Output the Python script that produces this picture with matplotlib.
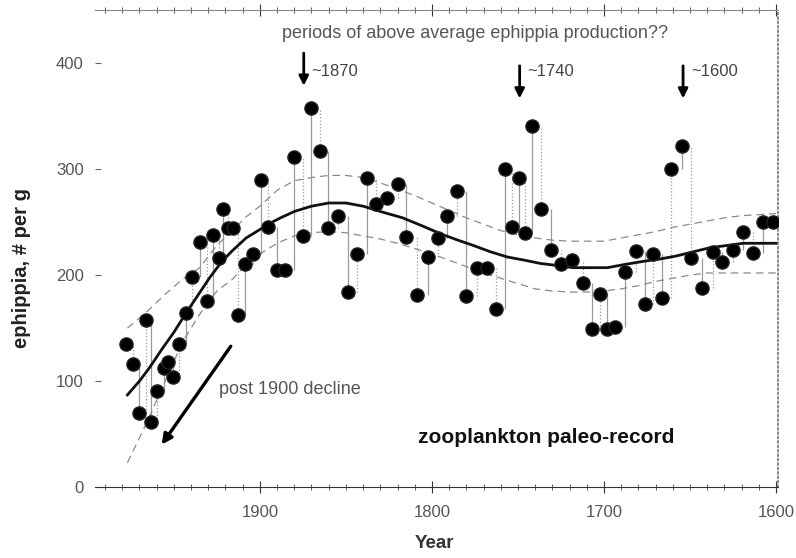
import numpy as np
import matplotlib
matplotlib.use('Agg')
import matplotlib.pyplot as plt
from matplotlib.ticker import MultipleLocator

plt.rcParams['font.family'] = ['Liberation Sans', 'DejaVu Sans']

# ephippia counts (year, # per g)
anos = [1978, 1974, 1970, 1966, 1963, 1960, 1956, 1953.5, 1950.6, 1947, 1943,
        1939.5, 1935, 1931, 1927, 1924, 1921.5, 1918.6, 1915.7, 1912.8, 1908.7,
        1904, 1899.4, 1895, 1890, 1885.5, 1880, 1875, 1870, 1865, 1860.5,
        1854.7, 1849, 1843.6, 1838, 1832.6, 1826, 1820, 1815, 1808.7, 1802,
        1796.5, 1791, 1785.5, 1780, 1774, 1768, 1763, 1757.6, 1753.5, 1749.4,
        1746, 1742, 1736.6, 1731, 1725, 1718.6, 1712, 1707, 1702, 1698,
        1693.6, 1688, 1681.4, 1676, 1671.5, 1666, 1661, 1654.6, 1649.4, 1643,
        1636.6, 1631.4, 1625, 1619, 1613.4, 1607.6, 1601.7]
ephippia = [135, 116, 70, 158, 61, 91, 112, 118, 104, 135, 164,
            198, 231, 176, 238, 216, 262, 244, 244, 162, 210,
            220, 290, 245, 205, 205, 311, 237, 358, 317, 244,
            256, 184, 220, 292, 267, 273, 286, 236, 181, 217,
            235, 256, 279, 180, 207, 207, 168, 300, 245, 292,
            240, 341, 262, 224, 210, 214, 193, 149, 182, 149,
            151, 203, 223, 173, 220, 178, 300, 322, 216, 188,
            222, 212, 224, 241, 221, 250, 250]

# smoothed trend and its band
anos_fit = [1977, 1970, 1964, 1957, 1950, 1943, 1936, 1929, 1922, 1916, 1908,
            1900, 1894, 1888, 1880, 1870, 1860, 1855, 1850, 1840, 1830, 1817,
            1805, 1795, 1785, 1776, 1766, 1756, 1746, 1737, 1727, 1718, 1708,
            1698, 1688, 1677, 1668, 1658, 1648, 1638, 1628, 1619, 1610, 1600]
ajuste = [87, 100, 113, 130, 146, 164, 181, 198, 213, 223, 235,
          243, 249, 254, 260, 265, 268, 268, 268, 265, 260, 254,
          246, 239, 233, 228, 222, 217, 214, 211, 209, 207, 207,
          207, 210, 213, 215, 218, 222, 226, 228, 230, 230, 230]

anos_banda = [1977, 1966, 1955, 1945, 1935, 1925, 1916, 1908, 1900, 1890,
              1880, 1870, 1860, 1850, 1840, 1830, 1820, 1810, 1800, 1790,
              1780, 1770, 1760, 1750, 1740, 1730, 1720, 1710, 1700, 1690,
              1680, 1670, 1660, 1650, 1640, 1630, 1620, 1610, 1600]
banda_sup = [150, 165, 182, 196, 207, 228, 242, 255, 265, 280,
             289, 292, 294, 294, 292, 287, 281, 275, 268, 261,
             254, 248, 242, 238, 235, 233, 232, 232, 232, 235,
             238, 241, 245, 248, 251, 254, 256, 257, 258]
banda_inf = [23, 60, 100, 137, 163, 185, 196, 210, 220, 230,
             237, 240, 241, 240, 237, 234, 230, 225, 220, 214,
             208, 202, 197, 192, 187, 185, 184, 184, 185, 187,
             190, 194, 197, 200, 202, 202, 202, 202, 202]

fig = plt.figure(figsize=(7.96, 5.58), dpi=100)
ax = fig.add_axes([0.119, 0.127, 0.858, 0.855])

# vertical connectors between successive samples
ys = np.array(ephippia)
prev = np.concatenate([[ys[0]], ys[:-1]])
estilos = ['-' if i % 2 == 0 else ':' for i in range(len(ys))]
ax.vlines(anos, np.minimum(ys, prev), np.maximum(ys, prev), colors='#9a9a9a',
          linewidth=0.9, linestyles=estilos, zorder=1)

ax.plot(anos_banda, banda_sup, color='#8a8a8a', lw=0.9, ls=(0, (6, 4)), zorder=2)
ax.plot(anos_banda, banda_inf, color='#8a8a8a', lw=0.9, ls=(0, (6, 4)), zorder=2)
ax.plot(anos_fit, ajuste, color='#111111', lw=2.0, zorder=3)
ax.scatter(anos, ephippia, s=90, color='black', edgecolors='#222222', zorder=4)

ax.set_xlim(1996, 1599)
ax.set_ylim(0, 450)

ax.xaxis.set_major_locator(MultipleLocator(100))
ax.xaxis.set_minor_locator(MultipleLocator(10))
ax.yaxis.set_major_locator(MultipleLocator(100))
ax.tick_params(axis='x', which='major', direction='inout', length=8, width=0.8,
               colors='#333333', labelcolor='#555555', labelsize=12, pad=9,
               top=True)
ax.tick_params(axis='x', which='minor', direction='inout', length=4, width=0.6,
               colors='#444444', top=True)
ax.tick_params(axis='y', which='major', direction='in', length=4, width=0.8,
               colors='#666666', labelcolor='#555555', labelsize=12, pad=8)

ax.spines['left'].set_visible(False)
ax.spines['top'].set_color('#888888')
ax.spines['bottom'].set_color('#333333')
ax.spines['right'].set_color('#777777')
ax.spines['right'].set_linestyle(':')
ax.spines['right'].set_linewidth(1.2)

ax.set_xlabel('Year', fontsize=13.5, fontweight='bold', color='#333333')
ax.xaxis.set_label_coords(0.497, -0.1)
ax.set_ylabel('ephippia, # per g', fontsize=14.5, fontweight='bold', color='#222222')
ax.yaxis.set_label_coords(-0.093, 0.46)

ax.text(1775, 428, 'periods of above average ephippia production??', ha='center',
        va='center', fontsize=13, color='#555555')
for xa, y0, y1, lab in [(1874.5, 412, 376, '~1870'), (1749, 400, 364, '~1740'),
                        (1654, 400, 364, '~1600')]:
    ax.annotate('', xy=(xa, y1), xytext=(xa, y0),
                arrowprops=dict(arrowstyle='-|>', color='black', lw=2.0,
                                mutation_scale=14))
    ax.text(xa - 4.5, 392, lab, ha='left', va='center', fontsize=12, color='#444444')

ax.annotate('', xy=(1958, 38), xytext=(1916, 135),
            arrowprops=dict(arrowstyle='-|>', color='black', lw=2.4,
                            mutation_scale=15))
ax.text(1924, 92, 'post 1900 decline', ha='left', va='center', fontsize=13,
        color='#555555')
ax.text(1808, 47, 'zooplankton paleo-record', ha='left', va='center', fontsize=15,
        fontweight='bold', color='#111111')

plt.savefig('out.png', dpi=100)
